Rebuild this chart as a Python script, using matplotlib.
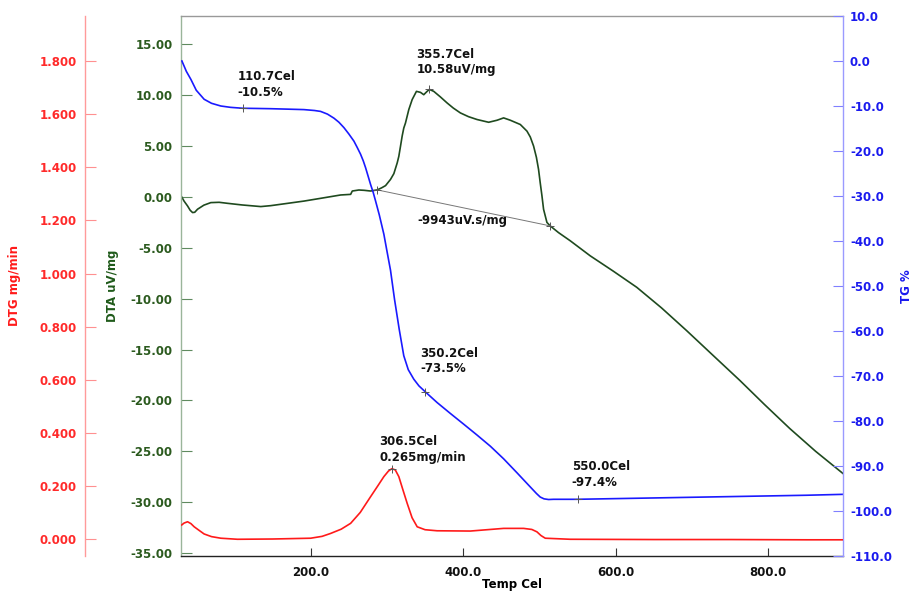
import matplotlib
matplotlib.use("Agg")
import matplotlib.pyplot as plt
import matplotlib.ticker as ticker

plt.rcParams['font.family'] = ['DejaVu Sans']
plt.rcParams['font.weight'] = 'bold'

# TG curve (mass %, right axis)
tg_T = [31.2, 37, 43, 50, 60.3, 70, 82.2, 95, 110.7, 130, 147.6, 170, 191.2, 205, 213, 222,
        230.5, 237, 243.6, 250, 256.7, 261, 265.4, 269, 272, 275, 278.5, 282, 285.1, 290,
        296, 300, 304.7, 310, 316.1, 322.1, 328, 335.2, 342, 350.2, 365.8, 383, 400.6,
        418, 435.6, 453, 470.5, 486, 496, 501, 506, 512, 518.4, 549, 650, 750, 850, 897.6]
tg_val = [0.0, -2.3, -4.1, -6.5, -8.5, -9.4, -10.0, -10.3, -10.5, -10.55, -10.6, -10.7, -10.8,
          -11.0, -11.2, -11.8, -12.7, -13.6, -14.8, -16.2, -17.8, -19.2, -20.7, -22.2, -23.7,
          -25.4, -27.4, -29.2, -31.1, -34.2, -38.5, -42.2, -46.5, -53.0, -59.6, -65.5, -68.6,
          -70.7, -72.2, -73.5, -75.9, -78.3, -80.7, -83.1, -85.6, -88.4, -91.5, -94.3, -96.1,
          -96.9, -97.3, -97.45, -97.4, -97.4, -97.1, -96.8, -96.5, -96.3]

# DTA curve (uV/mg, inner left axis)
dta_T = [31, 34, 38.6, 42, 45.2, 48, 51.7, 60, 69.1, 80, 91, 110, 134.6, 147.6, 170, 191.2,
         213, 239.3, 252.4, 254.6, 263.2, 270, 278.5, 287.3, 293, 298.2, 304.7, 309.1,
         313.5, 315.6, 317.8, 320, 322.1, 324.3, 328.7, 333.1, 338.7, 344, 348.3, 352.7,
         355.7, 361.4, 370, 378.9, 387, 396.3, 407, 418.2, 433.4, 444.4, 453, 461.8, 474.9,
         483.6, 488, 492.3, 496, 498.8, 501, 503.3, 505.4, 509.8, 514.1, 525, 540.3, 566.5,
         597, 627.6, 660, 693, 728, 762.8, 795, 828.3, 862, 898]
dta_val = [0.0, -0.4, -0.88, -1.3, -1.53, -1.5, -1.2, -0.8, -0.55, -0.52, -0.62, -0.78, -0.94,
           -0.85, -0.62, -0.4, -0.13, 0.2, 0.26, 0.59, 0.69, 0.66, 0.59, 0.7, 0.9, 1.12,
           1.73, 2.3, 3.36, 4.0, 4.99, 6.0, 6.78, 7.27, 8.6, 9.58, 10.39, 10.29, 10.06, 10.39,
           10.58, 10.39, 9.85, 9.25, 8.75, 8.27, 7.9, 7.62, 7.35, 7.55, 7.78, 7.55, 7.13,
           6.48, 5.9, 5.01, 3.9, 2.72, 1.4, 0.1, -1.21, -2.5, -2.84, -3.5, -4.3, -5.78,
           -7.3, -8.88, -10.9, -13.14, -15.6, -18.04, -20.4, -22.77, -25.0, -27.19]

# DTG curve (mg/min, outer left axis)
dtg_T = [31, 34, 38.6, 43, 47.3, 54, 60.3, 70, 82.2, 104, 150, 200, 215, 226.2, 240, 252.4,
         265, 278.5, 288, 296, 302, 306.5, 311, 315.6, 321, 326.6, 333, 339.7, 350, 365.8,
         409.4, 453, 479.2, 490, 496.7, 502, 507.6, 540.3, 650, 750, 850, 897.6]
dtg_val = [0.053, 0.06, 0.065, 0.058, 0.046, 0.032, 0.019, 0.009, 0.003, -0.001, 0.0, 0.003,
           0.01, 0.021, 0.037, 0.059, 0.1, 0.159, 0.2, 0.235, 0.256, 0.265, 0.26, 0.235,
           0.185, 0.134, 0.08, 0.046, 0.035, 0.031, 0.03, 0.04, 0.04, 0.036, 0.027, 0.013,
           0.003, -0.001, -0.002, -0.002, -0.003, -0.003]

# evaluation points and their labels
tg_marks_T = [110.7, 350.2, 550.0]
tg_marks_val = [-10.5, -73.5, -97.4]
dtg_peak_T, dtg_peak_val = 306.5, 0.265
dta_peak_T, dta_peak_val = 355.7, 10.58
base_T = [287.3, 514.1]
base_val = [0.7, -2.84]
dta_area = -9943

c_tg, c_dta, c_dtg = '#1a1aff', '#1f4a1f', '#ff1a1a'
txt_kw = dict(fontsize=8.5, fontweight='bold', color='#111111', va='center', ha='left',
              linespacing=1.25)

fig = plt.figure(figsize=(9.17, 5.92), dpi=100)
ax = fig.add_axes([181 / 917, 36 / 592, 662 / 917, 540 / 592])
ax_tg = ax.twinx()
ax_dtg = ax.twinx()

# curves
ax_tg.plot(tg_T, tg_val, color=c_tg, lw=1.2)
ax.plot(dta_T, dta_val, color=c_dta, lw=1.2)
ax.plot(base_T, base_val, color='#777777', lw=0.7)
ax_dtg.plot(dtg_T, dtg_val, color=c_dtg, lw=1.2)

# little cross marks at evaluated points
mk = dict(marker='+', ms=6, mew=0.7, color='#555555', ls='none')
ax_tg.plot(tg_marks_T, tg_marks_val, **mk)
ax.plot([dta_peak_T] + base_T, [dta_peak_val] + base_val, **mk)
ax_dtg.plot([dtg_peak_T], [dtg_peak_val], **mk)

# result texts
for t, v, dx, dy in zip(tg_marks_T, tg_marks_val, [-6.6, -6.2, -7.5], [5.3, 6.8, 5.5]):
    ax_tg.text(t + dx, v + dy, f"{t:.1f}Cel\n{v:.1f}%", **txt_kw)
ax.text(dta_peak_T - 17, dta_peak_val + 2.7, f"{dta_peak_T:.1f}Cel\n{dta_peak_val:.2f}uV/mg", **txt_kw)
ax.text(339.7, -2.35, f"{dta_area}uV.s/mg", **txt_kw)
ax_dtg.text(dtg_peak_T - 16.2, dtg_peak_val + 0.072, f"{dtg_peak_T:.1f}Cel\n{dtg_peak_val:.3f}mg/min", **txt_kw)

# x axis
ax.set_xlim(30, 898)
ax.xaxis.set_major_locator(ticker.FixedLocator([200, 400, 600, 800]))
ax.xaxis.set_major_formatter(ticker.FormatStrFormatter('%.1f'))
ax.tick_params(axis='x', direction='in', length=6, width=0.8, color='#333333',
               labelsize=8.5, pad=7, labelcolor='#111111')
ax.set_xlabel('Temp Cel', fontsize=8.5, fontweight='bold')
ax.xaxis.set_label_coords(0.5, -0.040)

# DTA axis
ax.set_ylim(-35.3, 17.8)
ax.yaxis.set_major_locator(ticker.MultipleLocator(5))
ax.yaxis.set_major_formatter(ticker.FormatStrFormatter('%.2f'))
ax.tick_params(axis='y', direction='in', length=8, width=0.8, color='#5f8a5f',
               labelsize=8.5, labelcolor='#2b5a1e', pad=6)
ax.set_ylabel('DTA uV/mg', color='#1f5a1a', fontsize=8.5, fontweight='bold')
ax.yaxis.set_label_coords(-0.093, 0.5)

# TG axis
ax_tg.set_ylim(-110, 10)
ax_tg.yaxis.set_major_locator(ticker.MultipleLocator(10))
ax_tg.yaxis.set_major_formatter(ticker.FormatStrFormatter('%.1f'))
ax_tg.tick_params(axis='y', direction='in', length=7.5, width=0.8, color='#8080ff',
                  labelsize=8.5, labelcolor='#1a1aee', pad=5)
ax_tg.set_ylabel('TG %', color='#1a1aee', fontsize=8.5, fontweight='bold')
ax_tg.yaxis.set_label_coords(1.086, 0.5)

# DTG axis, offset to the left
ax_dtg.set_ylim(-0.064, 1.97)
ax_dtg.yaxis.set_ticks_position('left')
ax_dtg.yaxis.set_label_position('left')
ax_dtg.spines['left'].set_position(('outward', 69))
ax_dtg.yaxis.set_major_locator(ticker.FixedLocator([0, 0.2, 0.4, 0.6, 0.8, 1.0, 1.2, 1.4, 1.6, 1.8]))
ax_dtg.yaxis.set_major_formatter(ticker.FormatStrFormatter('%.3f'))
ax_dtg.tick_params(axis='y', direction='in', length=8, width=0.8, color='#ff9090',
                   labelsize=8.5, labelcolor='#ff2a2a', pad=6)
ax_dtg.set_ylabel('DTG mg/min', color='#ff1a1a', fontsize=8.5, fontweight='bold')
ax_dtg.yaxis.set_label_coords(-0.242, 0.5)

# spines
for a in (ax, ax_tg, ax_dtg):
    for s in a.spines.values():
        s.set_visible(False)
ax.spines['left'].set_visible(True)
ax.spines['left'].set_color('#9ab59a')
ax.spines['top'].set_visible(True)
ax.spines['top'].set_color('#999999')
ax.spines['bottom'].set_visible(True)
ax.spines['bottom'].set_color('#222222')
ax_tg.spines['right'].set_visible(True)
ax_tg.spines['right'].set_color('#9a9aff')
ax_dtg.spines['left'].set_visible(True)
ax_dtg.spines['left'].set_color('#ff9a9a')
for a in (ax, ax_tg, ax_dtg):
    for s in a.spines.values():
        s.set_linewidth(1.0)

fig.savefig('out.png', dpi=100)
